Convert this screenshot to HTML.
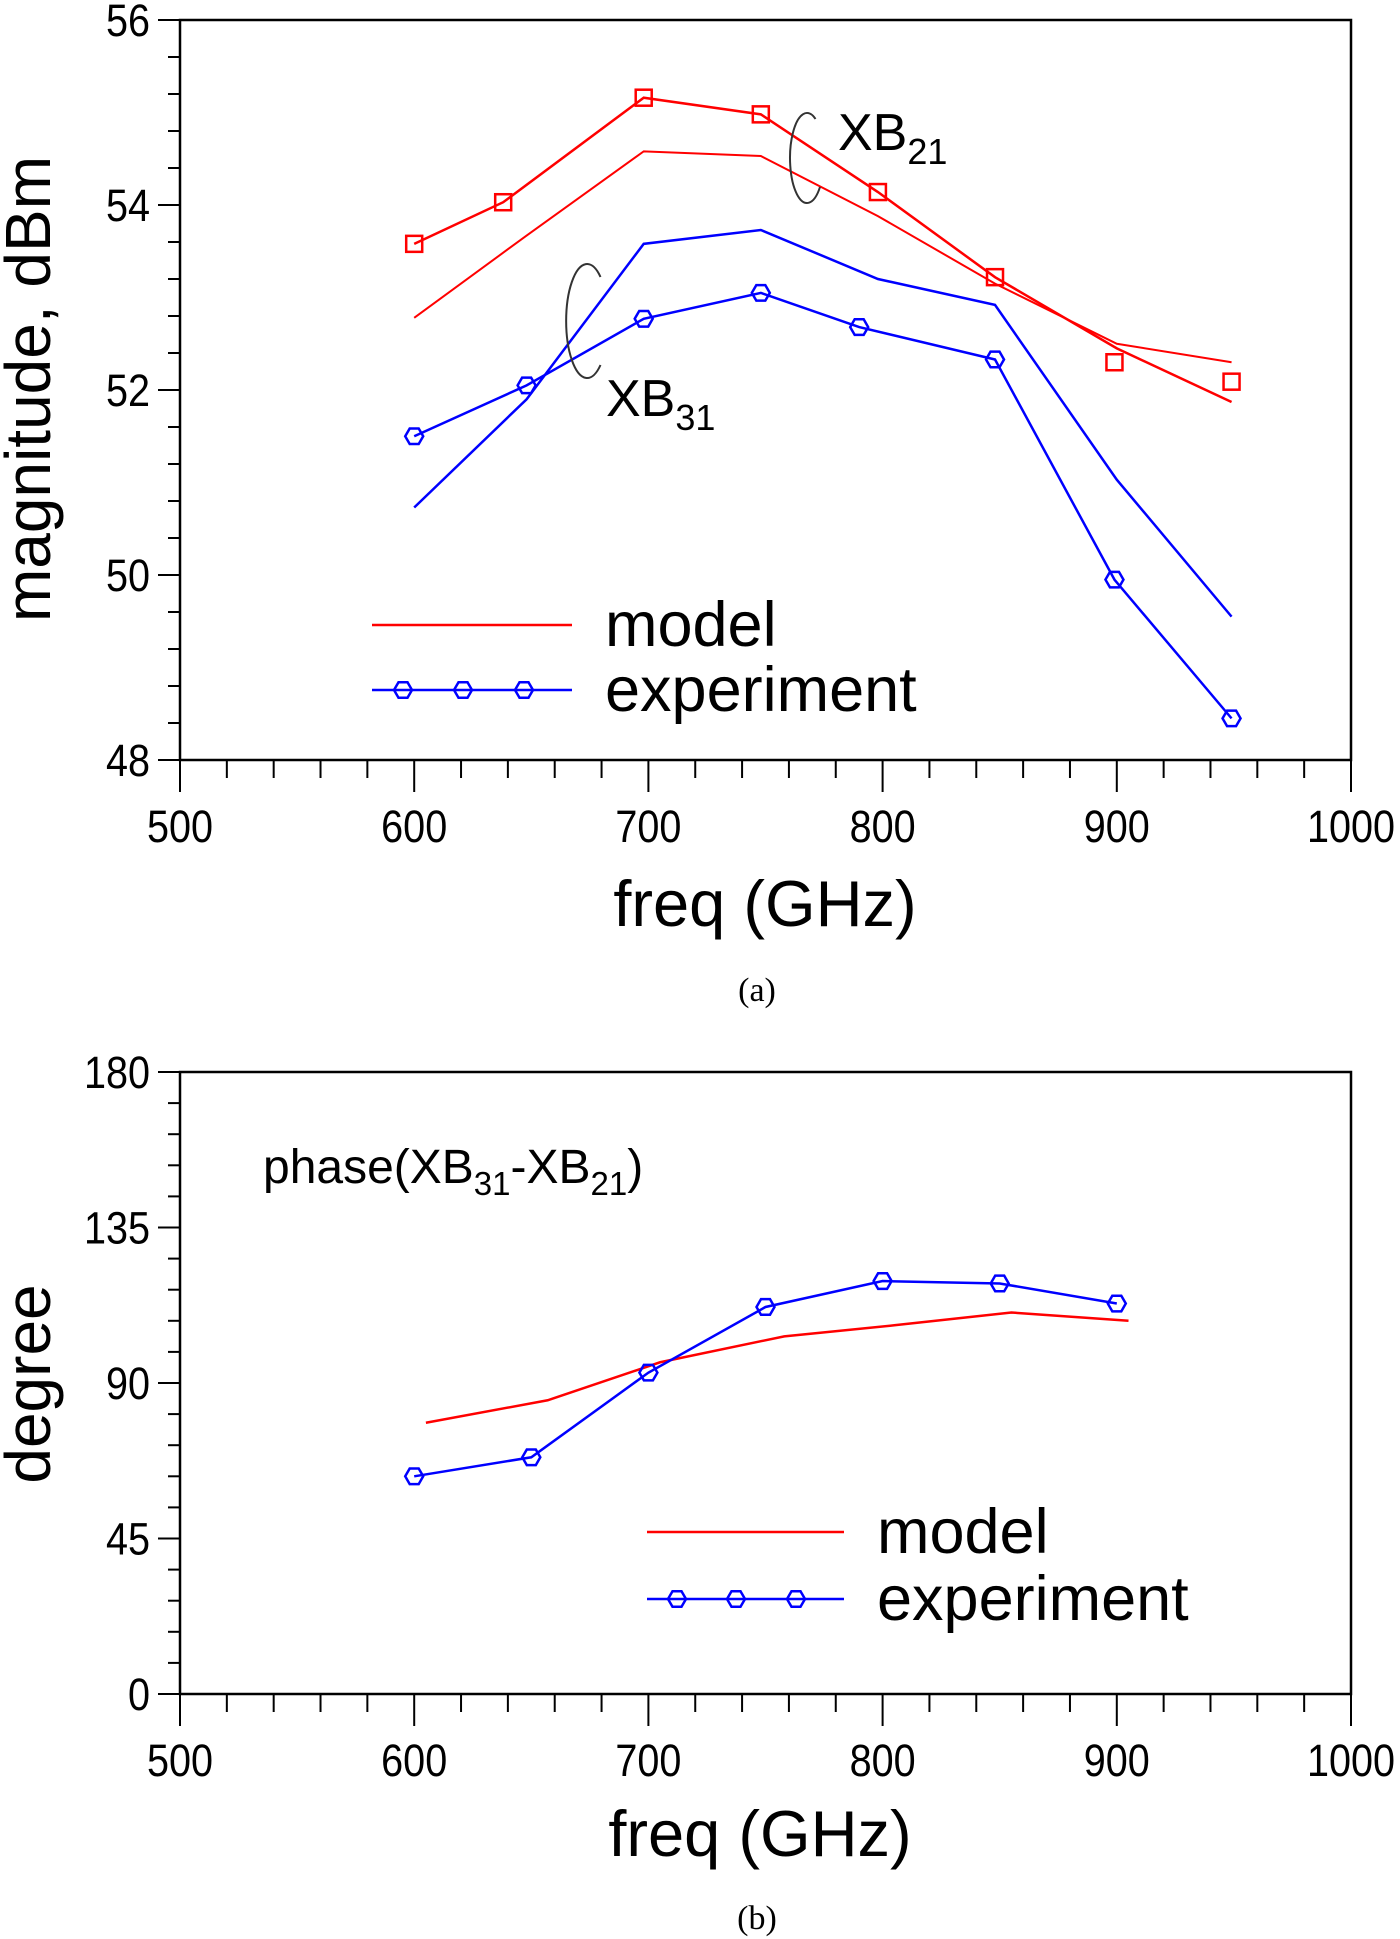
<!DOCTYPE html>
<html><head><meta charset="utf-8"><style>
html,body{margin:0;padding:0;background:#fff}
svg{display:block}
text{font-family:"Liberation Sans",Arial,sans-serif;fill:#000}
</style></head><body>
<svg id="fig" width="1400" height="1939" viewBox="0 0 1400 1939" xmlns="http://www.w3.org/2000/svg"></svg>
<script>
// ---- chart (a) data ----
const freqA_xb21Line = [600, 638, 698, 748, 798, 848, 900, 949];
const magA_xb21Line = [53.58, 54.03, 55.16, 54.98, 54.14, 53.22, 52.45, 51.87];
const freqA_xb21Mark = [600, 638, 698, 748, 798, 848, 899, 949];
const magA_xb21Mark = [53.58, 54.03, 55.16, 54.98, 54.14, 53.22, 52.30, 52.09];
const freqA_xb21Model = [600, 648, 698, 748, 798, 848, 900, 949];
const magA_xb21Model = [52.78, 53.67, 54.58, 54.53, 53.88, 53.15, 52.50, 52.30];
const freqA_xb31Model = [600, 648, 698, 748, 798, 848, 900, 949];
const magA_xb31Model = [50.73, 51.90, 53.58, 53.73, 53.20, 52.92, 51.03, 49.55];
const freqA_xb31Exp = [600, 648, 698, 748, 790, 848, 899, 949];
const magA_xb31Exp = [51.50, 52.05, 52.77, 53.05, 52.68, 52.33, 49.95, 48.45];
const yTicksA = [48, 50, 52, 54, 56];
const xTicks = [500, 600, 700, 800, 900, 1000];
// ---- chart (b) data ----
const freqB_exp = [600, 650, 700, 750, 800, 850, 900];
const phaseB_exp = [63, 68.5, 93, 112, 119.5, 118.8, 113];
const freqB_model = [605, 657, 705, 758, 805, 855, 905];
const phaseB_model = [78.5, 85, 96, 103.5, 106.7, 110.4, 108];
const yTicksB = [0, 45, 90, 135, 180];

const NS = "http://www.w3.org/2000/svg";
const svg = document.getElementById('fig');
function mk(tag, attrs, parent, txt){
  const e = document.createElementNS(NS, tag);
  for (const k in attrs) e.setAttribute(k, attrs[k]);
  if (txt !== undefined) e.textContent = txt;
  (parent||svg).appendChild(e);
  return e;
}
const L = 180, R = 1351;
function xs(f){ return L + (f-500)/500*(R-L); }

function axes(g, top, bot, ymin, ymax, yminor, ticks){
  const ys = v => bot - (v-ymin)/(ymax-ymin)*(bot-top);
  const frame = mk('rect',{x:L,y:top,width:R-L,height:bot-top,fill:'none',stroke:'#000','stroke-width':2.5},g);
  
  
  for (let v=ymin; v<=ymax+1e-9; v+=yminor){
    const major = ticks.some(t=>Math.abs(t-v)<1e-6);
    const t = mk('line',{x1:L-(major?22:12),x2:L,y1:ys(v),y2:ys(v),stroke:'#000','stroke-width':2},g);
    
    
  }
  ticks.forEach(v=>{
    const t = mk('text',{x:(L-30)/0.88,y:ys(v)+16,'font-size':45,'text-anchor':'end',transform:'scale(0.88 1)'},g,String(v));
    
    
  });
  for (let f=500; f<=1000; f+=20){
    const major = f%100===0;
    const t = mk('line',{x1:xs(f),x2:xs(f),y1:bot,y2:bot+(major?32:18),stroke:'#000','stroke-width':2},g);
    
    
  }
  xTicks.forEach(f=>{
    const t = mk('text',{x:xs(f)/0.88,y:bot+82,'font-size':45,'text-anchor':'middle',transform:'scale(0.88 1)'},g,String(f));
    
    
  });
  return ys;
}
function line(g, fx, fy, ys, color, w, name){
  const pts = fx.map((f,i)=>xs(f)+','+ys(fy[i])).join(' ');
  const p = mk('polyline',{points:pts,fill:'none',stroke:color,'stroke-width':w},g);
  
  
}
function hexAt(g, cx, cy, name){
  const r=9, pts=[];
  for(let k=0;k<6;k++){const a=Math.PI/3*k; pts.push((cx+r*Math.cos(a))+','+(cy+r*Math.sin(a)));}
  const h = mk('polygon',{points:pts.join(' '),fill:'none',stroke:'#0000ff','stroke-width':2.5},g);
  
  
}
function squareAt(g, cx, cy, name){
  const s = mk('rect',{x:cx-8,y:cy-8,width:16,height:16,fill:'none',stroke:'#ff0000','stroke-width':2.5},g);
  
  
}

// ===== chart (a) =====
const gA = mk('g',{});


const ysA = axes(gA, 20, 760, 48, 56, 0.4, yTicksA);
line(gA, freqA_xb21Model, magA_xb21Model, ysA, '#ff0000', 2, 'xb21-model-line');
line(gA, freqA_xb21Line, magA_xb21Line, ysA, '#ff0000', 2.5, 'xb21-experiment-line');
freqA_xb21Mark.forEach((f,i)=>squareAt(gA, xs(f), ysA(magA_xb21Mark[i]), 'xb21-experiment-point'));
line(gA, freqA_xb31Model, magA_xb31Model, ysA, '#0000ff', 2.5, 'xb31-model-line');
line(gA, freqA_xb31Exp, magA_xb31Exp, ysA, '#0000ff', 2.5, 'xb31-experiment-line');
freqA_xb31Exp.forEach((f,i)=>hexAt(gA, xs(f), ysA(magA_xb31Exp[i]), 'xb31-experiment-point'));
</script>
<script>
// annotations (a)
(function(){
  const g = svg.lastElementChild;
  let e;
  e = mk('path',{d:'M 815.5 119 A 17 45 0 1 0 820 187',fill:'none',stroke:'#333','stroke-width':2},g);
   
  e = mk('path',{d:'M 600.5 277 A 21 57 0 1 0 600.5 365',fill:'none',stroke:'#333','stroke-width':2},g);
   
  e = mk('text',{x:838,y:150,'font-size':52},g);
   
  e.innerHTML='XB<tspan font-size="36" dy="14">21</tspan>';
  e = mk('text',{x:606,y:416,'font-size':52},g);
   
  e.innerHTML='XB<tspan font-size="36" dy="14">31</tspan>';
  // legend
  e = mk('line',{x1:372,x2:572,y1:625,y2:625,stroke:'#ff0000','stroke-width':2.5},g);
   
  e = mk('text',{x:605,y:646,'font-size':63},g,'model');
   
  e = mk('line',{x1:372,x2:572,y1:690,y2:690,stroke:'#0000ff','stroke-width':2.5},g);
   
  [403,463,524].forEach(x=>hexAt(g,x,690,'legend-experiment-marker'));
  e = mk('text',{x:605,y:711,'font-size':63},g,'experiment');
   
  e = mk('text',{x:765,y:926,'font-size':65,'text-anchor':'middle'},g,'freq (GHz)');
   
  e = mk('text',{x:50,y:389,'font-size':64,'text-anchor':'middle',transform:'rotate(-90 50 389)'},g,'magnitude, dBm');
   
  e = mk('text',{x:757,y:1001,'font-size':34,'text-anchor':'middle',style:'font-family:"Liberation Serif",serif'},g,'(a)');
   
})();

// ===== chart (b) =====
(function(){
  const gB = mk('g',{});
  
  
  const ysB = axes(gB, 1072, 1694, 0, 180, 9, yTicksB);
  line(gB, freqB_model, phaseB_model, ysB, '#ff0000', 2.5, 'phase-model-line');
  line(gB, freqB_exp, phaseB_exp, ysB, '#0000ff', 2.5, 'phase-experiment-line');
  freqB_exp.forEach((f,i)=>hexAt(gB, xs(f), ysB(phaseB_exp[i]), 'phase-experiment-point'));
  let e;
  e = mk('text',{x:263,y:1183,'font-size':48},gB);
   
  e.innerHTML='phase(XB<tspan font-size="33" dy="12">31</tspan><tspan dy="-12">-XB</tspan><tspan font-size="33" dy="12">21</tspan><tspan dy="-12">)</tspan>';
  e = mk('line',{x1:647,x2:844,y1:1532,y2:1532,stroke:'#ff0000','stroke-width':2.5},gB);
   
  e = mk('text',{x:877,y:1553,'font-size':63},gB,'model');
   
  e = mk('line',{x1:647,x2:844,y1:1599,y2:1599,stroke:'#0000ff','stroke-width':2.5},gB);
   
  [677,736,796].forEach(x=>hexAt(gB,x,1599,'legend-experiment-marker'));
  e = mk('text',{x:877,y:1620,'font-size':63},gB,'experiment');
   
  e = mk('text',{x:760,y:1856,'font-size':65,'text-anchor':'middle'},gB,'freq (GHz)');
   
  e = mk('text',{x:50,y:1384,'font-size':64,'text-anchor':'middle',transform:'rotate(-90 50 1384)'},gB,'degree');
   
  e = mk('text',{x:757,y:1929,'font-size':34,'text-anchor':'middle',style:'font-family:"Liberation Serif",serif'},gB,'(b)');
   
})();
</script>
</body></html>
